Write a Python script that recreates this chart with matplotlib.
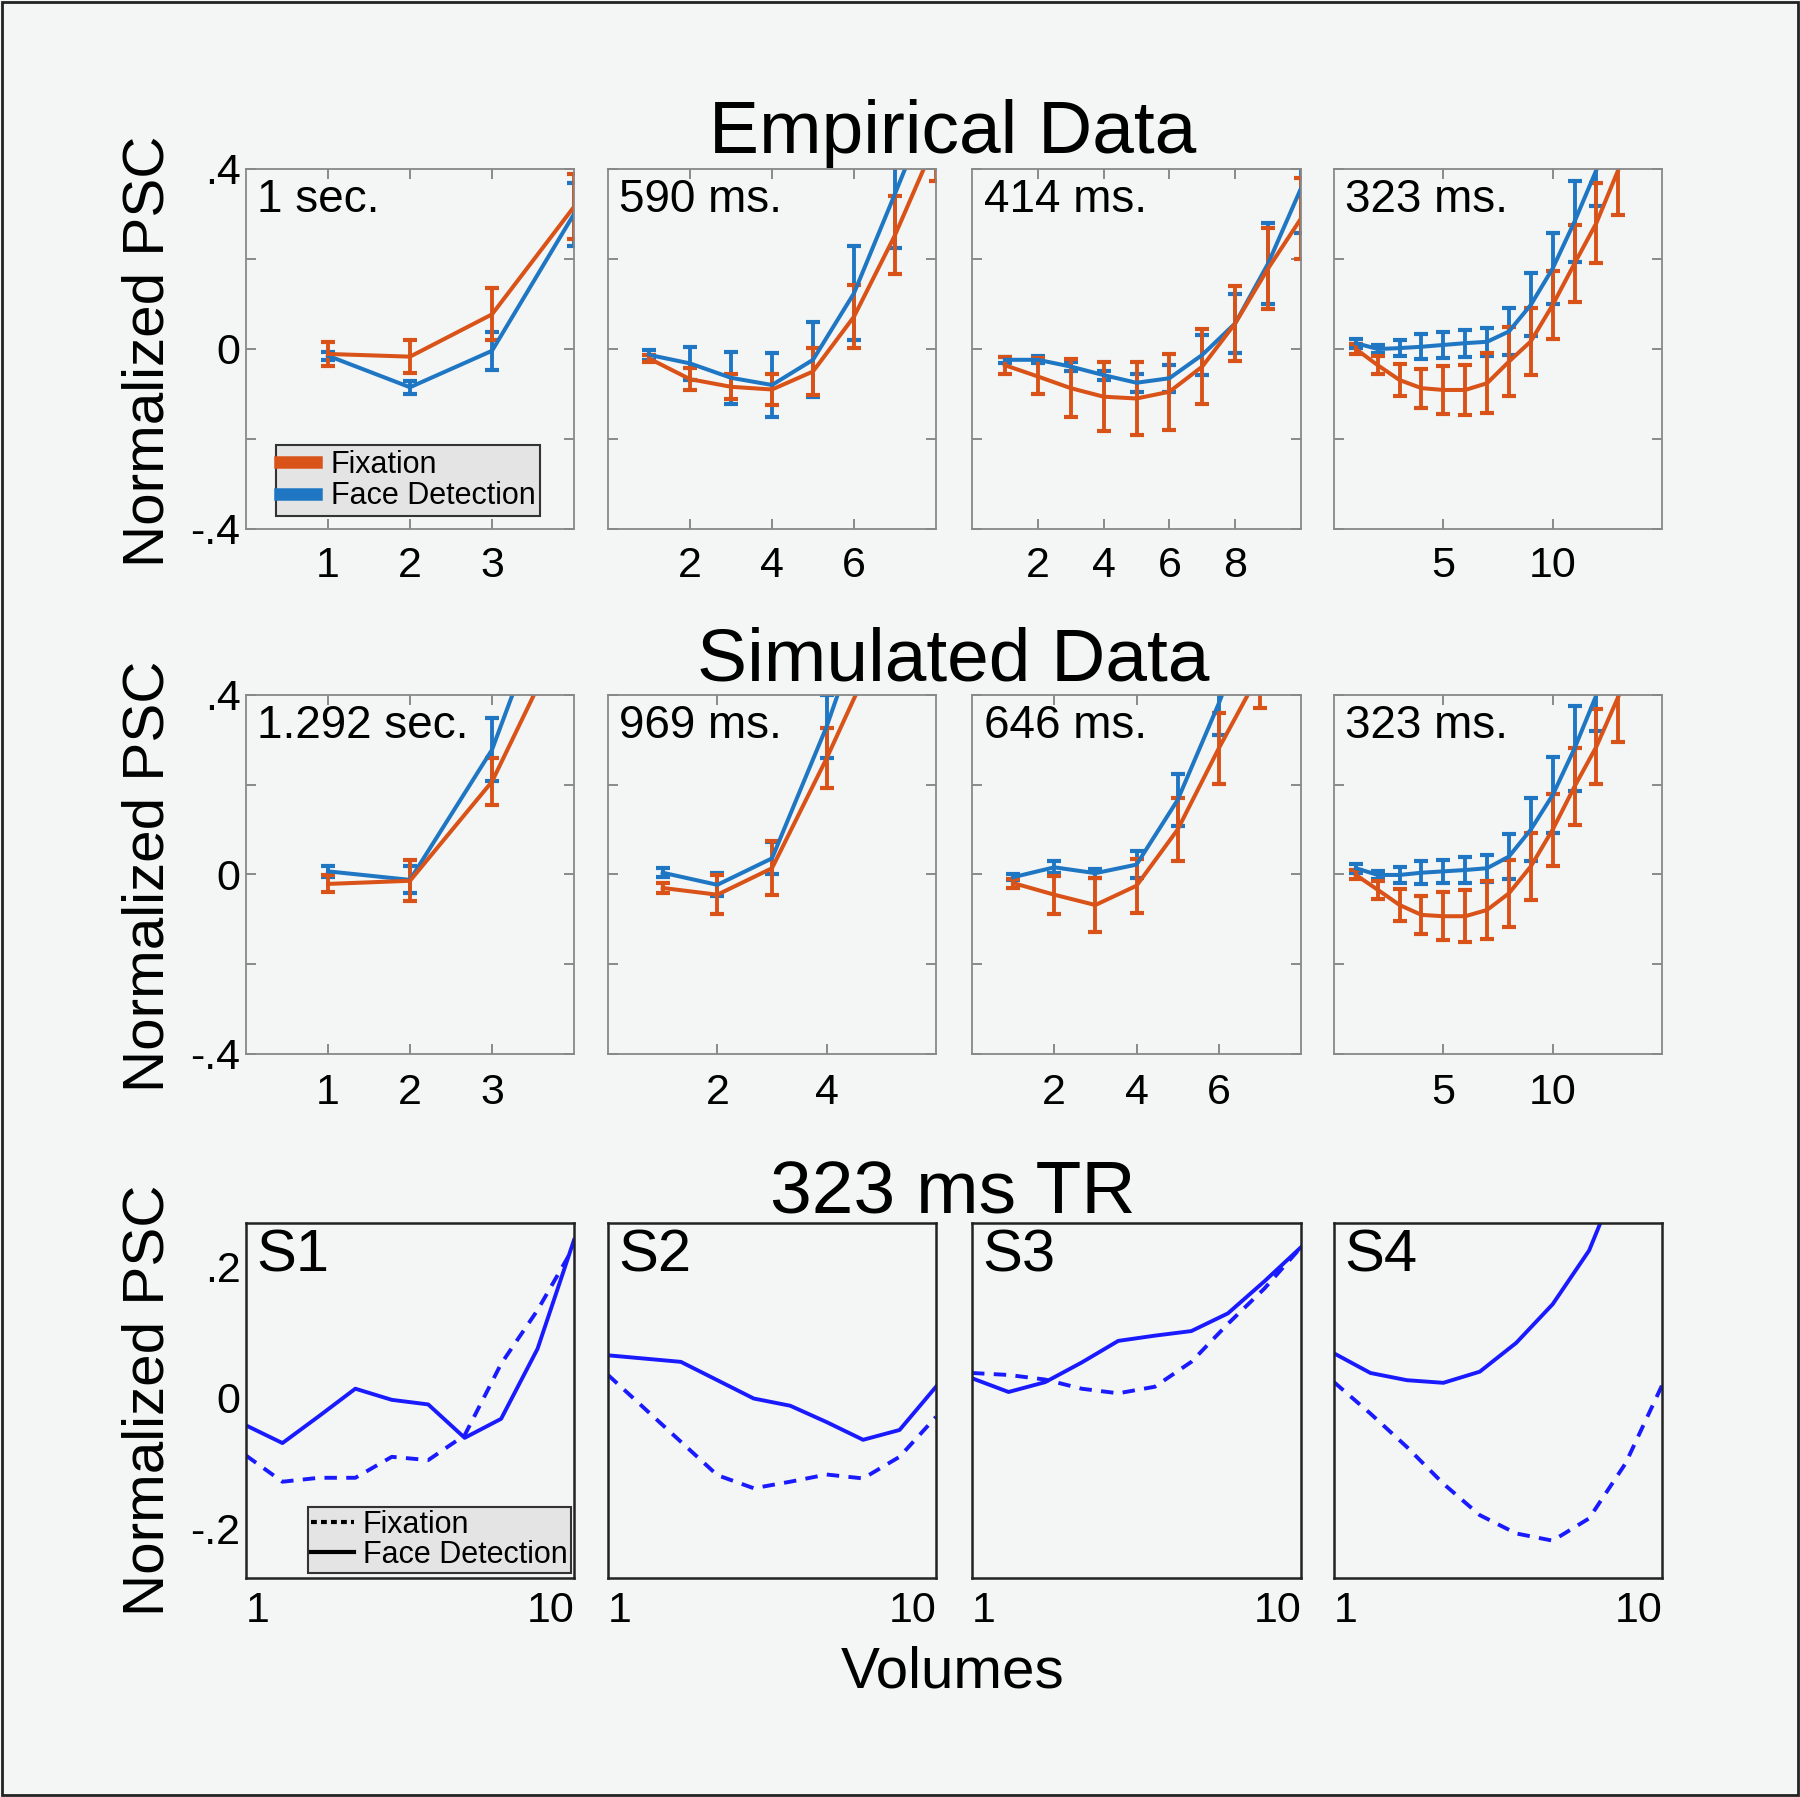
import numpy as np
import matplotlib.pyplot as plt
from matplotlib.lines import Line2D
from matplotlib.patches import Rectangle

plt.rcParams['font.family'] = ['Liberation Sans', 'DejaVu Sans']

W, H = 1800, 1797
BG = '#f4f6f5'
ORANGE = '#d95319'
BLUE = '#1f77c4'
SUBJ_BLUE = '#1a1aff'

# ---- empirical data (normalized PSC per volume) ----
emp_1s_x = [1, 2, 3, 4]
emp_1s_fix = [-0.011, -0.017, 0.077, 0.316]
emp_1s_fix_err = [0.026, 0.036, 0.058, 0.072]
emp_1s_face = [-0.015, -0.085, -0.004, 0.300]
emp_1s_face_err = [0.009, 0.014, 0.042, 0.070]

emp_590_x = [1, 2, 3, 4, 5, 6, 7, 8]
emp_590_fix = [-0.021, -0.067, -0.084, -0.090, -0.050, 0.072, 0.253, 0.463]
emp_590_fix_err = [0.008, 0.024, 0.028, 0.035, 0.052, 0.070, 0.086, 0.090]
emp_590_face = [-0.013, -0.032, -0.064, -0.080, -0.024, 0.124, 0.345, 0.570]
emp_590_face_err = [0.011, 0.037, 0.058, 0.071, 0.083, 0.104, 0.120, 0.120]

emp_414_x = [1, 2, 3, 4, 5, 6, 7, 8, 9, 10]
emp_414_fix = [-0.036, -0.061, -0.087, -0.106, -0.110, -0.095, -0.039, 0.057, 0.179, 0.290]
emp_414_fix_err = [0.019, 0.040, 0.064, 0.077, 0.081, 0.085, 0.083, 0.083, 0.090, 0.090]
emp_414_face = [-0.024, -0.024, -0.039, -0.058, -0.075, -0.065, -0.013, 0.057, 0.190, 0.357]
emp_414_face_err = [0.007, 0.008, 0.010, 0.010, 0.020, 0.030, 0.045, 0.065, 0.090, 0.100]

emp_323_x = [1, 2, 3, 4, 5, 6, 7, 8, 9, 10, 11, 12, 13, 14]
emp_323_fix = [0.000, -0.036, -0.069, -0.087, -0.091, -0.091, -0.076, -0.028, 0.017, 0.098, 0.190, 0.280, 0.398, 0.520]
emp_323_fix_err = [0.012, 0.020, 0.035, 0.043, 0.053, 0.056, 0.067, 0.077, 0.074, 0.076, 0.085, 0.088, 0.100, 0.100]
emp_323_face = [0.013, 0.000, 0.002, 0.005, 0.009, 0.013, 0.016, 0.039, 0.098, 0.179, 0.283, 0.398, 0.520, 0.640]
emp_323_face_err = [0.010, 0.008, 0.018, 0.028, 0.028, 0.030, 0.031, 0.052, 0.070, 0.078, 0.090, 0.080, 0.090, 0.090]

# ---- simulated data ----
sim_1292_x = [1, 2, 3, 4]
sim_1292_fix = [-0.021, -0.014, 0.207, 0.585]
sim_1292_fix_err = [0.019, 0.046, 0.052, 0.060]
sim_1292_face = [0.007, -0.012, 0.278, 0.770]
sim_1292_face_err = [0.012, 0.030, 0.070, 0.070]

sim_969_x = [1, 2, 3, 4, 5]
sim_969_fix = [-0.030, -0.045, 0.014, 0.259, 0.525]
sim_969_fix_err = [0.011, 0.043, 0.060, 0.067, 0.070]
sim_969_face = [0.004, -0.023, 0.036, 0.330, 0.680]
sim_969_face_err = [0.010, 0.026, 0.036, 0.070, 0.070]

sim_646_x = [1, 2, 3, 4, 5, 6, 7]
sim_646_fix = [-0.019, -0.045, -0.068, -0.025, 0.100, 0.281, 0.450]
sim_646_fix_err = [0.010, 0.042, 0.061, 0.060, 0.070, 0.080, 0.080]
sim_646_face = [-0.006, 0.016, 0.003, 0.022, 0.166, 0.381, 0.620]
sim_646_face_err = [0.007, 0.013, 0.010, 0.030, 0.058, 0.070, 0.070]

sim_323_x = [1, 2, 3, 4, 5, 6, 7, 8, 9, 10, 11, 12, 13, 14]
sim_323_fix = [-0.001, -0.034, -0.068, -0.090, -0.093, -0.093, -0.079, -0.042, 0.018, 0.100, 0.196, 0.285, 0.396, 0.520]
sim_323_fix_err = [0.010, 0.020, 0.035, 0.043, 0.054, 0.058, 0.065, 0.075, 0.075, 0.080, 0.085, 0.083, 0.100, 0.100]
sim_323_face = [0.014, -0.001, -0.001, 0.004, 0.007, 0.010, 0.014, 0.040, 0.100, 0.177, 0.281, 0.400, 0.520, 0.640]
sim_323_face_err = [0.010, 0.008, 0.018, 0.025, 0.025, 0.028, 0.030, 0.050, 0.070, 0.085, 0.095, 0.080, 0.090, 0.090]

# ---- single subjects, 323 ms TR ----
subj_x = [1, 2, 3, 4, 5, 6, 7, 8, 9, 10]
s1_fix = [-0.089, -0.129, -0.123, -0.123, -0.091, -0.096, -0.058, 0.051, 0.133, 0.230]
s1_face = [-0.043, -0.070, -0.029, 0.013, -0.004, -0.011, -0.062, -0.033, 0.074, 0.240]
s2_fix = [0.034, -0.017, -0.068, -0.119, -0.139, -0.129, -0.118, -0.124, -0.091, -0.030]
s2_face = [0.064, 0.059, 0.054, 0.026, -0.002, -0.013, -0.038, -0.065, -0.050, 0.016]
s3_fix = [0.037, 0.034, 0.027, 0.013, 0.006, 0.016, 0.054, 0.112, 0.166, 0.229]
s3_face = [0.029, 0.008, 0.023, 0.053, 0.086, 0.094, 0.101, 0.128, 0.177, 0.229]
s4_fix = [0.023, -0.025, -0.076, -0.132, -0.180, -0.208, -0.219, -0.185, -0.101, 0.018]
s4_face = [0.067, 0.037, 0.026, 0.022, 0.039, 0.083, 0.142, 0.224, 0.360, 0.500]

top_panels = [
    ('1 sec.', emp_1s_x, emp_1s_fix, emp_1s_fix_err, emp_1s_face, emp_1s_face_err, 4, [1, 2, 3]),
    ('590 ms.', emp_590_x, emp_590_fix, emp_590_fix_err, emp_590_face, emp_590_face_err, 8, [2, 4, 6]),
    ('414 ms.', emp_414_x, emp_414_fix, emp_414_fix_err, emp_414_face, emp_414_face_err, 10, [2, 4, 6, 8]),
    ('323 ms.', emp_323_x, emp_323_fix, emp_323_fix_err, emp_323_face, emp_323_face_err, 15, [5, 10]),
]
mid_panels = [
    ('1.292 sec.', sim_1292_x, sim_1292_fix, sim_1292_fix_err, sim_1292_face, sim_1292_face_err, 4, [1, 2, 3]),
    ('969 ms.', sim_969_x, sim_969_fix, sim_969_fix_err, sim_969_face, sim_969_face_err, 6, [2, 4]),
    ('646 ms.', sim_646_x, sim_646_fix, sim_646_fix_err, sim_646_face, sim_646_face_err, 8, [2, 4, 6]),
    ('323 ms.', sim_323_x, sim_323_fix, sim_323_fix_err, sim_323_face, sim_323_face_err, 15, [5, 10]),
]
subj_panels = [('S1', s1_fix, s1_face), ('S2', s2_fix, s2_face),
               ('S3', s3_fix, s3_face), ('S4', s4_fix, s4_face)]

cols = [(246, 574), (608, 936), (972, 1301), (1334, 1662)]
rows = [(169, 529), (695, 1054), (1223, 1578)]


def add_ax(fig, c, r):
    x0, x1 = cols[c]
    y0, y1 = rows[r]
    return fig.add_axes([x0 / W, 1 - y1 / H, (x1 - x0) / W, (y1 - y0) / H])


def gray_legend(leg):
    fr = leg.get_frame()
    fr.set_facecolor('#e4e4e4')
    fr.set_edgecolor('#333333')
    fr.set_linewidth(1.5)


fig = plt.figure(figsize=(W / 100, H / 100), dpi=100, facecolor=BG)

for r, panels in enumerate([top_panels, mid_panels]):
    for c, (lab, x, fix, fix_e, face, face_e, xmax, xt) in enumerate(panels):
        ax = add_ax(fig, c, r)
        ax.set_facecolor(BG)
        kw = dict(lw=2.9, capsize=5, capthick=3, elinewidth=2.8)
        ax.errorbar(x, face, yerr=face_e, color=BLUE, **kw)
        ax.errorbar(x, fix, yerr=fix_e, color=ORANGE, **kw)
        ax.set_xlim(0, xmax)
        ax.set_ylim(-0.4, 0.4)
        ax.set_xticks(xt)
        ax.set_yticks([-0.4, -0.2, 0, 0.2, 0.4])
        if c == 0:
            ax.set_yticklabels(['-.4', '', '0', '', '.4'])
        else:
            ax.set_yticklabels([])
        ax.tick_params(direction='in', top=True, right=True, length=7, width=1.2,
                       color='#777777', labelsize=31, pad=12 if r == 0 else 14)
        ax.tick_params(axis='y', pad=4)
        for s in ax.spines.values():
            s.set_color('#888888')
            s.set_linewidth(1.3)
        ax.text(0.035, 0.975, lab, transform=ax.transAxes, fontsize=33,
                va='top', ha='left')
        if r == 0 and c == 0:
            hs = [Line2D([0], [0], color=ORANGE, lw=9), Line2D([0], [0], color=BLUE, lw=9)]
            leg = ax.legend(hs, ['Fixation', 'Face Detection'], loc='lower left',
                            bbox_to_anchor=(0.091, 0.036), borderaxespad=0, fontsize=22,
                            handlelength=1.15, handletextpad=0.5, labelspacing=0.05,
                            borderpad=0.15, fancybox=False, framealpha=1)
            gray_legend(leg)

for c, (lab, fix, face) in enumerate(subj_panels):
    ax = add_ax(fig, c, 2)
    ax.set_facecolor(BG)
    ax.plot(subj_x, fix, color=SUBJ_BLUE, lw=2.8, linestyle=(0, (3.2, 2.4)))
    ax.plot(subj_x, face, color=SUBJ_BLUE, lw=2.8)
    ax.set_xlim(1, 10)
    ax.set_ylim(-0.276, 0.266)
    ax.set_xticks([1, 10])
    ax.set_xticklabels(['1', '10'])
    xl = ax.get_xticklabels()
    xl[0].set_horizontalalignment('left')
    xl[1].set_horizontalalignment('right')
    ax.set_yticks([-0.2, 0, 0.2])
    if c == 0:
        ax.set_yticklabels(['-.2', '0', '.2'])
    else:
        ax.set_yticklabels([])
    ax.tick_params(length=0, labelsize=31, pad=9)
    ax.tick_params(axis='y', pad=4)
    for s in ax.spines.values():
        s.set_color('#222222')
        s.set_linewidth(1.8)
    ax.text(0.03, 0.985, lab, transform=ax.transAxes, fontsize=43, va='top', ha='left')
    if c == 0:
        hs = [Line2D([0], [0], color='black', lw=3, linestyle=(0, (1.4, 1.0))),
              Line2D([0], [0], color='black', lw=3)]
        leg = ax.legend(hs, ['Fixation', 'Face Detection'], loc='lower left',
                        bbox_to_anchor=(0.189, 0.014), borderaxespad=0, fontsize=22,
                        handlelength=1.4, handletextpad=0.3, labelspacing=0.0,
                        borderpad=0.1, fancybox=False, framealpha=1)
        gray_legend(leg)

# titles and shared labels
fig.text(953 / W, 1 - 133 / H, 'Empirical Data', fontsize=54, ha='center', va='center')
fig.text(953 / W, 1 - 661 / H, 'Simulated Data', fontsize=54, ha='center', va='center')
fig.text(953 / W, 1 - 1194 / H, '323 ms TR', fontsize=54, ha='center', va='center')
fig.text(953 / W, 1 - 1673 / H, 'Volumes', fontsize=42, ha='center', va='center')
for yc in [351, 876, 1400]:
    fig.text(148 / W, 1 - yc / H, 'Normalized PSC', fontsize=42, rotation=90,
             ha='center', va='center')

# outer frame
fig.patches.append(Rectangle((0.001, 0.001), 0.998, 0.998, transform=fig.transFigure,
                             fill=False, edgecolor='#222222', lw=2))

fig.savefig('out.png', dpi=100, facecolor=BG)
